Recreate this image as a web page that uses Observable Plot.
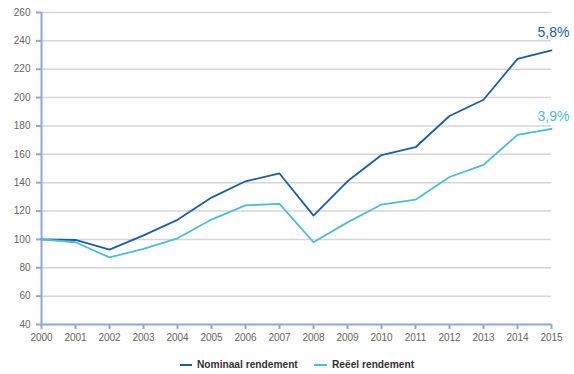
<!DOCTYPE html>
<html><head><meta charset="utf-8">
<script src="https://cdn.jsdelivr.net/npm/d3@7"></script>
<script src="https://cdn.jsdelivr.net/npm/@observablehq/plot@0.6"></script>
<style>
body{margin:0;background:#fff;font-family:"Liberation Sans",Arial,sans-serif;}
#legend{height:22px;font-size:10.2px;font-weight:bold;color:#333;position:relative;}
.item{position:absolute;display:flex;align-items:center;top:7px;}
.sw{display:inline-block;width:13px;height:2px;margin-right:5px;}
</style></head><body>
<div id="chart"></div>
<div id="legend">
  <div class="item" style="left:180px"><span class="sw" style="background:#1b5ea7;width:12px"></span>Nominaal rendement</div>
  <div class="item" style="left:314px"><span class="sw" style="background:#4dbcd8"></span>Reëel rendement</div>
</div>
<script>
const years = [2000,2001,2002,2003,2004,2005,2006,2007,2008,2009,2010,2011,2012,2013,2014,2015];
const nominaal = [100,99.6,92.8,102.8,113.8,129.5,141,146.5,116.8,141,159.5,165,187,198.5,227.3,233.3];
const reeel = [100,98,87.3,93.3,100.8,114,124,125,98,112,124.6,128,144,152.6,173.7,178];
const yTicks = [40,60,80,100,120,140,160,180,200,220,240,260];
const seriesNames = ["Nominaal rendement","Reëel rendement"];
const colors = ["#1b5ea7","#4dbcd8"];
const endLabels = ["5,8%","3,9%"];

const data = [];
years.forEach((y,i)=>{
  data.push({year:y, value:nominaal[i], series:seriesNames[0]});
  data.push({year:y, value:reeel[i], series:seriesNames[1]});
});
const endNom = [{year:years[years.length-1], value:nominaal[nominaal.length-1], label:endLabels[0], series:seriesNames[0]}];
const endReal = [{year:years[years.length-1], value:reeel[reeel.length-1], label:endLabels[1], series:seriesNames[1]}];
const axisColor = "#8ea8d8";
const chart = Plot.plot({
  width:574, height:352,
  marginLeft:41, marginRight:23, marginTop:12, marginBottom:28,
  style:{fontFamily:"Liberation Sans, Arial, sans-serif", fontSize:"10px", color:"#555"},
  x:{type:"linear", domain:[2000,2015]},
  y:{domain:[40,260]},
  color:{domain:seriesNames, range:colors},
  marks:[
    Plot.gridY(yTicks.filter(d=>d>40), {stroke:"#d6d6d6", strokeOpacity:1, strokeWidth:1.5}),
    Plot.ruleX([2000], {stroke:axisColor, strokeWidth:2}),
    Plot.ruleY([40], {stroke:axisColor, strokeWidth:2}),
    Plot.axisY({ticks:yTicks, tickSize:5, stroke:axisColor, strokeWidth:2, tickPadding:6, fill:"#666", label:null, fontSize:10}),
    Plot.axisX({ticks:years, tickFormat:d=>String(d), tickSize:5, stroke:axisColor, strokeWidth:2, tickPadding:4, fill:"#666", label:null, fontSize:10}),
    Plot.line(data, {x:"year", y:"value", stroke:"series", strokeWidth:1.8}),
    Plot.text(endNom, {x:"year", y:"value", text:"label", fill:"series", dy:-18, dx:2, fontSize:14, textAnchor:"middle"}),
    Plot.text(endReal, {x:"year", y:"value", text:"label", fill:"series", dy:-12, dx:2, fontSize:14, textAnchor:"middle"})
  ]
});
document.getElementById("chart").appendChild(chart);
</script>
</body></html>
